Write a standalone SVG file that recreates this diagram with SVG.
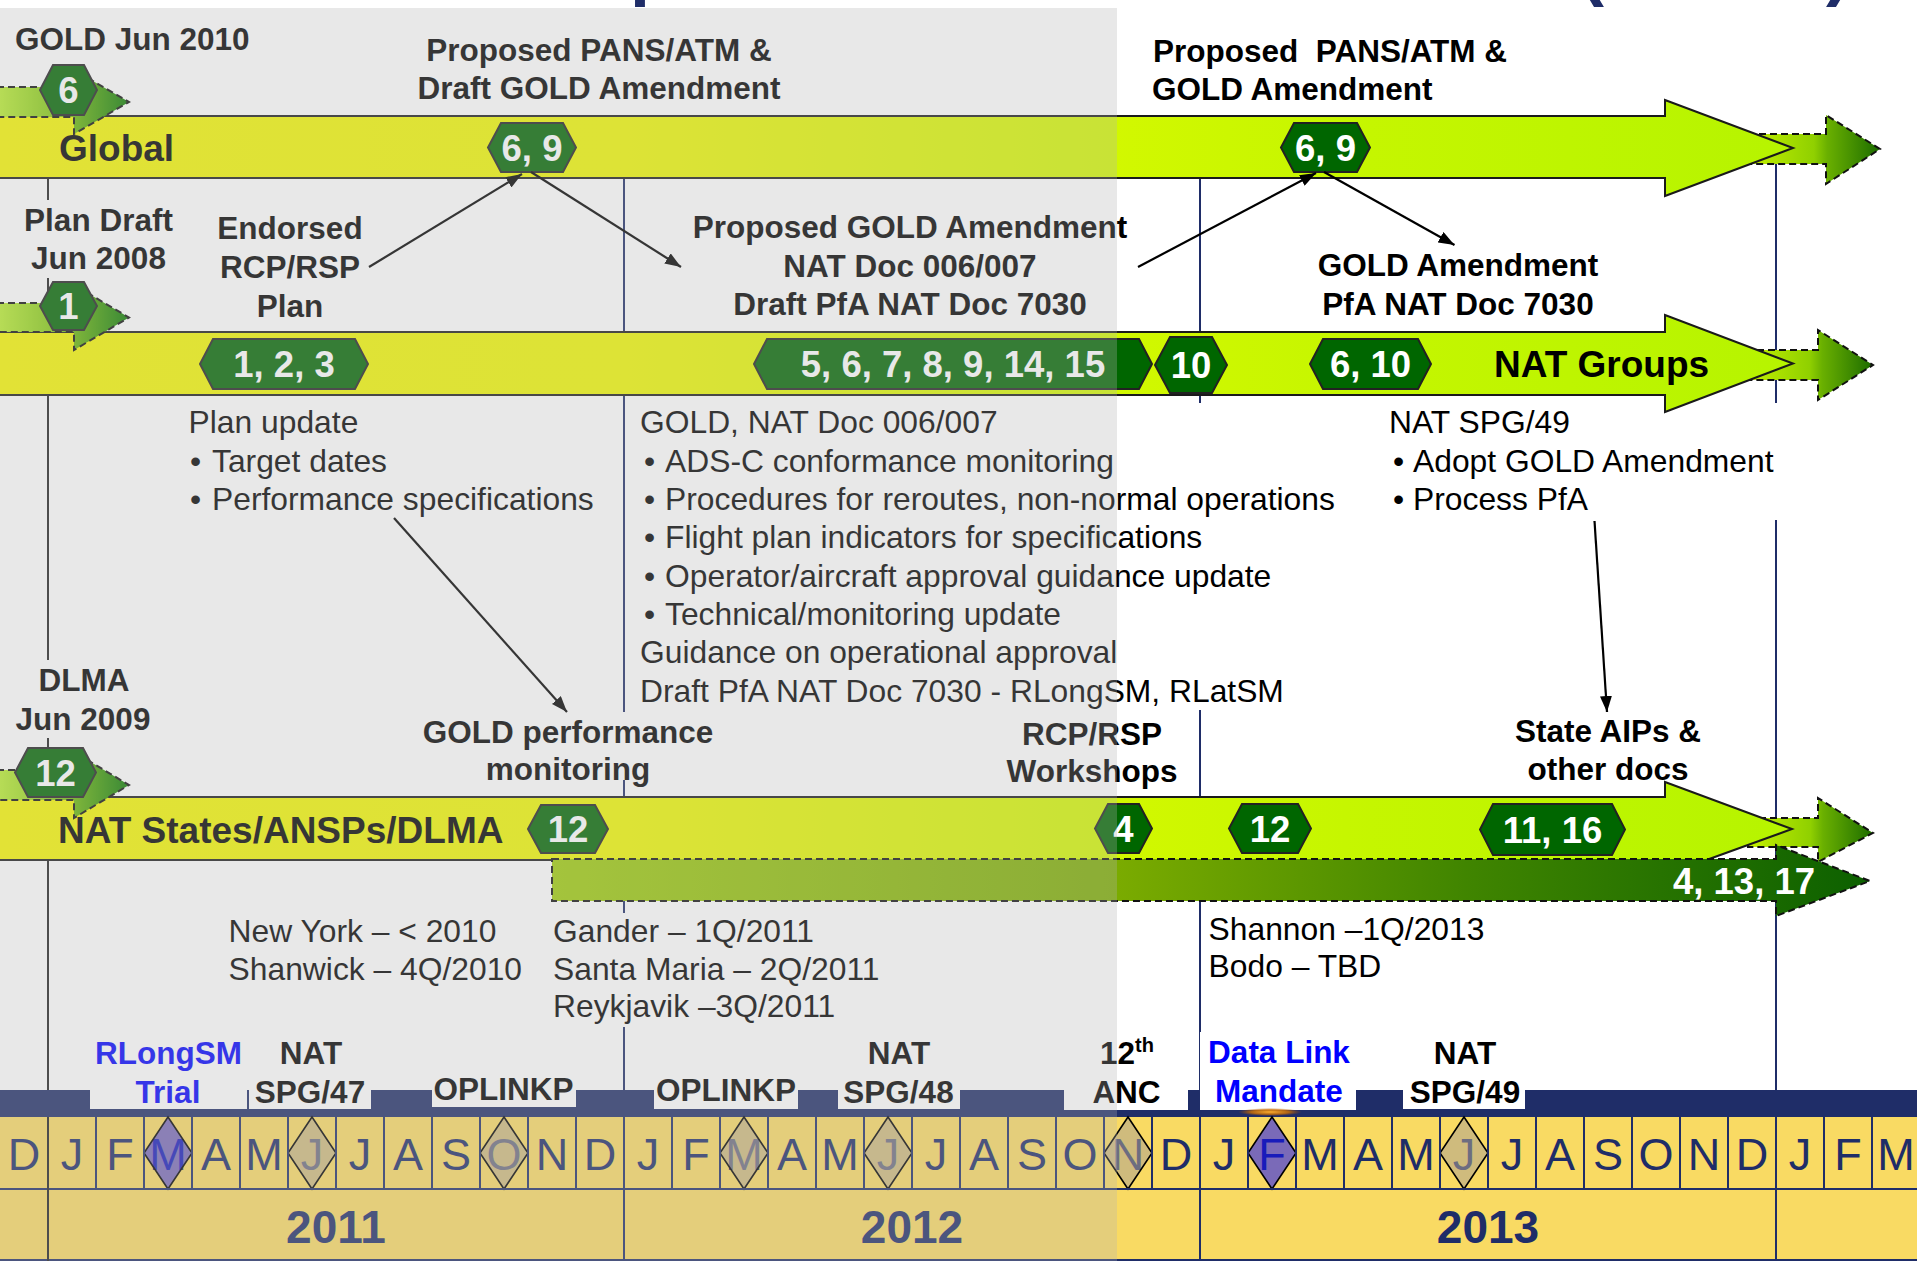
<svg xmlns="http://www.w3.org/2000/svg" width="1917" height="1261" viewBox="0 0 1917 1261">
<style>
text{font-family:"Liberation Sans",Arial,sans-serif;}
.b{font-weight:bold;font-size:31.5px;fill:#000;}
.bn{font-weight:bold;font-size:37px;fill:#000;}
.c{text-anchor:middle;}
.r{font-size:31.8px;fill:#000;}
.bl{fill:#0000ff;}
.hx{fill:#006600;stroke:#222;stroke-width:2;}
.ht{font-weight:bold;font-size:36.5px;fill:#fff;text-anchor:middle;}
.band{stroke:#1a1a1a;stroke-width:2;fill:url(#gBand);}
.ext{stroke:#111;stroke-width:2;stroke-dasharray:7 4;fill:url(#gExt);}
.st{stroke:#111;stroke-width:2;stroke-dasharray:7 4;fill:url(#gStart);}
.vl{stroke:#1f2d68;stroke-width:2;}
.bx{fill:#fff;}
.ln{stroke:#000;stroke-width:2.2;fill:none;marker-end:url(#ah);}
.m{font-size:45px;fill:#1f2d68;text-anchor:middle;}
.yr{font-weight:bold;font-size:46px;fill:#1f2d68;text-anchor:middle;}
.dt{fill:#ada293;fill-opacity:.55;stroke:#000;stroke-width:1.6;}
.dp{fill:#130fff;fill-opacity:.55;stroke:#000;stroke-width:1.6;}
.tf{font-weight:bold;font-size:72px;fill:#1f2d68;}
</style>
<defs>
<linearGradient id="gBand" gradientUnits="userSpaceOnUse" x1="0" y1="0" x2="1793" y2="0">
<stop offset="0" stop-color="#f6f700"/><stop offset="0.35" stop-color="#eff800"/><stop offset="0.62" stop-color="#d2f800"/><stop offset="0.75" stop-color="#c6f600"/><stop offset="1" stop-color="#b6f400"/>
</linearGradient>
<linearGradient id="gExt" x1="0" y1="0" x2="1" y2="0">
<stop offset="0" stop-color="#c4f000"/><stop offset="0.5" stop-color="#90d000"/><stop offset="0.6" stop-color="#6ab000"/><stop offset="1" stop-color="#1c6c00"/>
</linearGradient>
<linearGradient id="gStart" x1="0" y1="0" x2="1" y2="0">
<stop offset="0" stop-color="#bcf030"/><stop offset="0.55" stop-color="#70bc08"/><stop offset="1" stop-color="#077800"/>
</linearGradient>
<linearGradient id="g4" gradientUnits="userSpaceOnUse" x1="552" y1="0" x2="1870" y2="0">
<stop offset="0" stop-color="#9ecc0a"/><stop offset="0.43" stop-color="#7aab00"/><stop offset="0.7" stop-color="#3f8400"/><stop offset="1" stop-color="#0c6000"/>
</linearGradient>
<radialGradient id="gGlow" cx="0.5" cy="0.5" r="0.5">
<stop offset="0" stop-color="#ffb030" stop-opacity="1"/><stop offset="0.6" stop-color="#d07000" stop-opacity="0.8"/><stop offset="1" stop-color="#a05000" stop-opacity="0"/>
</radialGradient>
<marker id="ah" viewBox="0 0 16 12" refX="16" refY="6" markerWidth="16" markerHeight="12" markerUnits="userSpaceOnUse" orient="auto">
<path d="M0,0 L16,6 L0,12 z" fill="#000"/>
</marker>
</defs>

<rect x="0" y="0" width="1917" height="1261" fill="#fff"/>

<g id="title-fragments">
<text class="tf" x="630" y="-8">p</text>
<text class="tf" x="1580" y="-8">(</text>
<text class="tf" x="1826" y="-8">)</text>
</g>

<g id="gridlines">
<line x1="48" y1="178" x2="48" y2="1261" stroke="#222" stroke-width="2"/>
<line class="vl" x1="624" y1="178" x2="624" y2="1090"/>
<line class="vl" x1="1200" y1="178" x2="1200" y2="1090"/>
<line class="vl" x1="1776" y1="164" x2="1776" y2="1090"/>
</g>

<g id="label-backgrounds">
<rect class="bx" x="18" y="200" width="160" height="78"/>
<rect class="bx" x="10" y="660" width="145" height="78"/>
<rect class="bx" x="418" y="712" width="300" height="68"/>
<rect class="bx" x="636" y="403" width="704" height="307"/>
<rect class="bx" x="1385" y="403" width="393" height="117"/>
<rect class="bx" x="550" y="913" width="330" height="114"/>
</g>

<g id="ext-arrows">
<path id="ext-global" class="ext" d="M1748,134 H1826 V115 L1880,149 L1826,184 V164 H1748 Z"/>
<path id="ext-natgroups" class="ext" d="M1746,350 H1818 V330 L1873,365 L1818,400 V380 H1746 Z"/>
<path id="ext-states" class="ext" d="M1748,818 H1818 V798 L1873,833 L1818,862 V847 H1748 Z"/>
</g>

<g id="band-global">
<path class="band" d="M-3,116 H1665 V100 L1793,148 L1665,196 V178 H-3 Z"/>
<text class="bn" x="59" y="161">Global</text>
</g>
<g id="band-natgroups">
<path class="band" d="M-3,332 H1665 V315 L1793,363.5 L1665,412 V395 H-3 Z"/>
<text class="bn" x="1494" y="377">NAT Groups</text>
</g>
<g id="band-states">
<path class="band" d="M-3,797 H1665 V782 L1792,829 L1665,875 V860 H-3 Z"/>
<text class="bn" x="58" y="843">NAT States/ANSPs/DLMA</text>
</g>

<g id="arrow-4-13-17">
<path d="M552,859 H1776 V845 L1870,881 L1776,916 V901 H552 Z" fill="url(#g4)" stroke="#111" stroke-width="2" stroke-dasharray="7 4"/>
<text class="ht" x="1744" y="894">4, 13, 17</text>
</g>

<g id="start-arrows">
<path class="st" d="M-3,87 H74 V70 L129,102 L74,134 V117 H-3 Z"/>
<path class="st" d="M-3,303 H74 V285 L129,317.5 L74,350 V332 H-3 Z"/>
<path class="st" d="M-3,770 H74 V752 L129,785 L74,818 V800 H-3 Z"/>
</g>

<g id="hex-6-start"><polygon class="hx" points="40,90 53,65 84,65 97,90 84,115 53,115"/><text class="ht" x="68.5" y="103">6</text></g>
<g id="hex-1-start"><polygon class="hx" points="40,306 53,282 84,282 97,306 84,330 53,330"/><text class="ht" x="68.5" y="319">1</text></g>
<g id="hex-12-start"><polygon class="hx" points="15,772.5 28,748 83,748 96,772.5 83,797 28,797"/><text class="ht" x="55.5" y="785.5">12</text></g>
<g id="hex-69-a"><polygon class="hx" points="488,147.5 501,123 563,123 576,147.5 563,172 501,172"/><text class="ht" x="532" y="161">6, 9</text></g>
<g id="hex-69-b"><polygon class="hx" points="1281,147.5 1294,123 1357,123 1370,147.5 1357,172 1294,172"/><text class="ht" x="1325.5" y="161">6, 9</text></g>
<g id="hex-123"><polygon class="hx" points="200,364 213,339 355,339 368,364 355,389 213,389"/><text class="ht" x="284" y="377">1, 2, 3</text></g>
<g id="hex-5-15"><polygon class="hx" points="754,364 767,339 1139,339 1152,364 1139,389 767,389"/><text class="ht" x="953" y="377">5, 6, 7, 8, 9, 14, 15</text></g>
<g id="hex-10"><polygon class="hx" points="1155,365 1170,337 1212,337 1227,365 1212,393 1170,393"/><text class="ht" x="1191" y="378">10</text></g>
<g id="hex-610"><polygon class="hx" points="1310,364 1323,339 1418,339 1431,364 1418,389 1323,389"/><text class="ht" x="1370.5" y="377">6, 10</text></g>
<g id="hex-12-a"><polygon class="hx" points="528,829 541,805 595,805 608,829 595,853 541,853"/><text class="ht" x="568" y="842">12</text></g>
<g id="hex-4"><polygon class="hx" points="1095,828.5 1108,804 1139,804 1152,828.5 1139,853 1108,853"/><text class="ht" x="1123.5" y="841.5">4</text></g>
<g id="hex-12-b"><polygon class="hx" points="1229,828.5 1242,804 1298,804 1311,828.5 1298,853 1242,853"/><text class="ht" x="1270" y="841.5">12</text></g>
<g id="hex-1116"><polygon class="hx" points="1480,829.5 1493,804 1612,804 1625,829.5 1612,855 1493,855"/><text class="ht" x="1552.5" y="842.5">11, 16</text></g>

<g id="labels-top">
<text class="b" x="15" y="50">GOLD Jun 2010</text>
<text class="b c" x="599" y="61">Proposed PANS/ATM &amp;</text>
<text class="b c" x="599" y="99">Draft GOLD Amendment</text>
<text class="b" x="1153" y="62" xml:space="preserve">Proposed  PANS/ATM &amp;</text>
<text class="b" x="1152" y="100">GOLD Amendment</text>
</g>
<g id="labels-mid">
<text class="b c" x="98.5" y="231">Plan Draft</text>
<text class="b c" x="98.5" y="269">Jun 2008</text>
<text class="b c" x="290" y="239">Endorsed</text>
<text class="b c" x="290" y="278">RCP/RSP</text>
<text class="b c" x="290" y="317">Plan</text>
<text class="b c" x="910" y="238">Proposed GOLD Amendment</text>
<text class="b c" x="910" y="277">NAT Doc 006/007</text>
<text class="b c" x="910" y="315">Draft PfA NAT Doc 7030</text>
<text class="b c" x="1458" y="276">GOLD Amendment</text>
<text class="b c" x="1458" y="315">PfA NAT Doc 7030</text>
</g>
<g id="notes-plan">
<text class="r" x="188.6" y="433">Plan update</text>
<text class="r" x="190" y="472">•</text><text class="r" x="212" y="472">Target dates</text>
<text class="r" x="190" y="510">•</text><text class="r" x="212" y="510">Performance specifications</text>
</g>
<g id="notes-gold">
<text class="r" x="640" y="433">GOLD, NAT Doc 006/007</text>
<text class="r" x="644" y="472">•</text><text class="r" x="665" y="472">ADS-C conformance monitoring</text>
<text class="r" x="644" y="510">•</text><text class="r" x="665" y="510">Procedures for reroutes, non-normal operations</text>
<text class="r" x="644" y="548">•</text><text class="r" x="665" y="548">Flight plan indicators for specifications</text>
<text class="r" x="644" y="587">•</text><text class="r" x="665" y="587">Operator/aircraft approval guidance update</text>
<text class="r" x="644" y="625">•</text><text class="r" x="665" y="625">Technical/monitoring update</text>
<text class="r" x="640" y="663">Guidance on operational approval</text>
<text class="r" x="640" y="702">Draft PfA NAT Doc 7030 - RLongSM, RLatSM</text>
</g>
<g id="notes-spg49">
<text class="r" x="1389" y="433">NAT SPG/49</text>
<text class="r" x="1393" y="472">•</text><text class="r" x="1413" y="472">Adopt GOLD Amendment</text>
<text class="r" x="1393" y="510">•</text><text class="r" x="1413" y="510">Process PfA</text>
</g>
<g id="labels-lower">
<text class="b c" x="84" y="691">DLMA</text>
<text class="b c" x="83" y="730">Jun 2009</text>
<text class="b c" x="568" y="743">GOLD performance</text>
<text class="b c" x="568" y="780">monitoring</text>
<text class="b c" x="1092" y="745">RCP/RSP</text>
<text class="b c" x="1092" y="782">Workshops</text>
<text class="b c" x="1608" y="742">State AIPs &amp;</text>
<text class="b c" x="1608" y="780">other docs</text>
</g>
<g id="notes-sites">
<text class="r" x="228.6" y="942">New York – &lt; 2010</text>
<text class="r" x="228.6" y="980">Shanwick – 4Q/2010</text>
<text class="r" x="553" y="942">Gander – 1Q/2011</text>
<text class="r" x="553" y="980">Santa Maria – 2Q/2011</text>
<text class="r" x="553" y="1017">Reykjavik –3Q/2011</text>
<text class="r" x="1208.6" y="940">Shannon –1Q/2013</text>
<text class="r" x="1208.6" y="977">Bodo – TBD</text>
</g>

<g id="connectors">
<path class="ln" d="M369,267 L522,174"/>
<path class="ln" d="M531,172 L681,267"/>
<path class="ln" d="M1138,267 L1316,173"/>
<path class="ln" d="M1324,172 L1454.5,245"/>
<path class="ln" d="M394,518 L567,712"/>
<path class="ln" d="M1594.5,521 L1607,712"/>
</g>

<g id="timeline">
<rect x="0" y="1090" width="1917" height="27" fill="#1f2d68"/>
<rect class="bx" x="90" y="1032" width="157" height="77"/>
<rect class="bx" x="249" y="1032" width="122" height="77"/>
<rect class="bx" x="432" y="1032" width="144" height="75"/>
<rect class="bx" x="654" y="1032" width="144" height="77"/>
<rect class="bx" x="838" y="1032" width="122" height="77"/>
<rect class="bx" x="1064" y="1032" width="124" height="78"/>
<rect class="bx" x="1200" y="1032" width="156" height="78"/>
<rect class="bx" x="1403" y="1032" width="122" height="77"/>
<ellipse cx="1270" cy="1112" rx="32" ry="4" fill="url(#gGlow)"/>
<text class="b c bl" x="168.5" y="1064">RLongSM</text>
<text class="b c bl" x="168" y="1103">Trial</text>
<text class="b c" x="311" y="1064">NAT</text>
<text class="b c" x="310" y="1103">SPG/47</text>
<text class="b c" x="503.5" y="1100">OPLINKP</text>
<text class="b c" x="726" y="1101">OPLINKP</text>
<text class="b c" x="899" y="1064">NAT</text>
<text class="b c" x="898.5" y="1103">SPG/48</text>
<text class="b" x="1100" y="1064">12<tspan font-size="20" dy="-12">th</tspan></text>
<text class="b c" x="1126.5" y="1103">ANC</text>
<text class="b c bl" x="1279" y="1063">Data Link</text>
<text class="b c bl" x="1279" y="1102">Mandate</text>
<text class="b c" x="1465" y="1064">NAT</text>
<text class="b c" x="1465" y="1103">SPG/49</text>
<rect x="0" y="1117" width="1917" height="144" fill="#f9da63"/>
<g id="months">
<text class="m" x="24" y="1170">D</text>
<text class="m" x="72" y="1170">J</text><text class="m" x="120" y="1170">F</text><text class="m" x="168" y="1170">M</text><text class="m" x="216" y="1170">A</text><text class="m" x="264" y="1170">M</text><text class="m" x="312" y="1170">J</text><text class="m" x="360" y="1170">J</text><text class="m" x="408" y="1170">A</text><text class="m" x="456" y="1170">S</text><text class="m" x="504" y="1170">O</text><text class="m" x="552" y="1170">N</text><text class="m" x="600" y="1170">D</text>
<text class="m" x="648" y="1170">J</text><text class="m" x="696" y="1170">F</text><text class="m" x="744" y="1170">M</text><text class="m" x="792" y="1170">A</text><text class="m" x="840" y="1170">M</text><text class="m" x="888" y="1170">J</text><text class="m" x="936" y="1170">J</text><text class="m" x="984" y="1170">A</text><text class="m" x="1032" y="1170">S</text><text class="m" x="1080" y="1170">O</text><text class="m" x="1128" y="1170">N</text><text class="m" x="1176" y="1170">D</text>
<text class="m" x="1224" y="1170">J</text><text class="m" x="1272" y="1170">F</text><text class="m" x="1320" y="1170">M</text><text class="m" x="1368" y="1170">A</text><text class="m" x="1416" y="1170">M</text><text class="m" x="1464" y="1170">J</text><text class="m" x="1512" y="1170">J</text><text class="m" x="1560" y="1170">A</text><text class="m" x="1608" y="1170">S</text><text class="m" x="1656" y="1170">O</text><text class="m" x="1704" y="1170">N</text><text class="m" x="1752" y="1170">D</text>
<text class="m" x="1800" y="1170">J</text><text class="m" x="1848" y="1170">F</text><text class="m" x="1896" y="1170">M</text>
</g>
<g id="milestones">
<polygon class="dp" points="168,1117 192,1153 168,1189 144,1153"/>
<polygon class="dt" points="312,1117 336,1153 312,1189 288,1153"/>
<polygon class="dt" points="504,1117 528,1153 504,1189 480,1153"/>
<polygon class="dt" points="744,1117 768,1153 744,1189 720,1153"/>
<polygon class="dt" points="888,1117 912,1153 888,1189 864,1153"/>
<polygon class="dt" points="1128,1117 1152,1153 1128,1189 1104,1153"/>
<polygon class="dp" points="1272,1117 1296,1153 1272,1189 1248,1153"/>
<polygon class="dt" points="1464,1117 1488,1153 1464,1189 1440,1153"/>
</g>
<path stroke="#1f2d68" stroke-width="2" fill="none" d="M96 1117V1189M144 1117V1189M192 1117V1189M240 1117V1189M288 1117V1189M336 1117V1189M384 1117V1189M432 1117V1189M480 1117V1189M528 1117V1189M576 1117V1189M624 1117V1261M672 1117V1189M720 1117V1189M768 1117V1189M816 1117V1189M864 1117V1189M912 1117V1189M960 1117V1189M1008 1117V1189M1056 1117V1189M1104 1117V1189M1152 1117V1189M1200 1117V1261M1248 1117V1189M1296 1117V1189M1344 1117V1189M1392 1117V1189M1440 1117V1189M1488 1117V1189M1536 1117V1189M1584 1117V1189M1632 1117V1189M1680 1117V1189M1728 1117V1189M1776 1117V1261M1824 1117V1189M1872 1117V1189M0 1189H1917M0 1260H1917"/>
<line x1="48" y1="1117" x2="48" y2="1261" stroke="#222" stroke-width="2"/>
<text class="yr" x="336" y="1243">2011</text>
<text class="yr" x="912" y="1243">2012</text>
<text class="yr" x="1488" y="1243">2013</text>
</g>

<rect id="shade" x="0" y="8" width="1117" height="1253" fill="#b4b4b4" opacity="0.3"/>
</svg>
